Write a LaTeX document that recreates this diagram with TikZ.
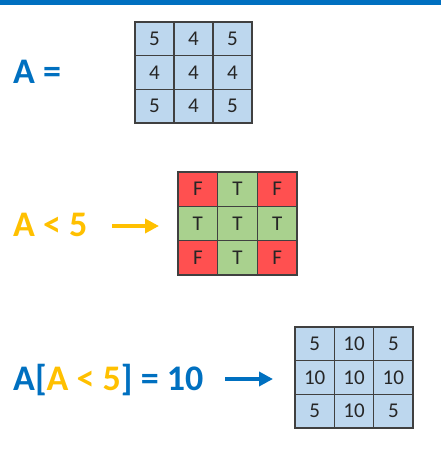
\documentclass[tikz,border=0pt]{standalone}
\usepackage{fontspec}
\setmainfont{Carlito}
\usetikzlibrary{arrows.meta}
\definecolor{tblue}{HTML}{0070C0}
\definecolor{tyellow}{HTML}{FFC000}
\definecolor{cblue}{HTML}{BDD7EE}
\definecolor{cred}{HTML}{FF5050}
\definecolor{cgreen}{HTML}{A9D18E}
\definecolor{cline}{HTML}{404040}
\definecolor{ctext}{HTML}{262626}
\tikzset{
  cell/.style={draw=cline, line width=1.3pt, inner sep=0pt, text=ctext,
    font=\fontsize{21}{21}\selectfont},
  bigtext/.style={anchor=base west, inner sep=0pt, font=\fontsize{36}{36}\selectfont\bfseries},
  bigarrow/.style={line width=4.5pt, -{Triangle[length=14pt,width=14pt]}},
}
\newcommand{\gridcell}[7]{% name, cx, cy, w, h, fill, text
  \node[cell, fill=#6, minimum width=#4pt, minimum height=#5pt] (#1) at (#2,#3) {#7};}
\begin{document}
\begin{tikzpicture}[x=1pt,y=-1pt]
\useasboundingbox (0,0) rectangle (441,457);
\fill[tblue] (0,0) rectangle (441,4.8);

% ---- A =
\node[bigtext, text=tblue] (lblA) at (13,84) {A =};
% matrix 1: x 135-252, y 22-123
\foreach \r/\rn in {0/a,1/b,2/c}{
  \foreach \c/\cn in {0/a,1/b,2/c}{
    \pgfmathsetmacro{\cx}{135+19.5+39*\c}
    \pgfmathsetmacro{\cy}{22+16.83+33.67*\r}
    \ifnum\r=1 \def\v{4}\else\ifnum\c=1 \def\v{4}\else\def\v{5}\fi\fi
    \gridcell{m1\rn\cn}{\cx}{\cy}{39}{33.67}{cblue}{\v}
  }
}

% ---- A < 5
\node[bigtext, text=tyellow] (lblB) at (13,236) {A < 5};
\coordinate (arrBs) at (112,226);
\coordinate (arrBe) at (159,226);
\draw[bigarrow, tyellow] (arrBs) -- (arrBe);
% matrix 2: x 178-297, y 172-275
\foreach \r/\rn in {0/a,1/b,2/c}{
  \foreach \c/\cn in {0/a,1/b,2/c}{
    \pgfmathsetmacro{\cx}{178+19.83+39.67*\c}
    \pgfmathsetmacro{\cy}{172+17.17+34.33*\r}
    \ifnum\r=1 \def\v{T}\def\f{cgreen}\else\ifnum\c=1 \def\v{T}\def\f{cgreen}\else\def\v{F}\def\f{cred}\fi\fi
    \gridcell{m2\rn\cn}{\cx}{\cy}{39.67}{34.33}{\f}{\v}
  }
}

% ---- A[A<5] = 10
\node[bigtext] (lblC) at (13,390) {\textcolor{tblue}{A[}\textcolor{tyellow}{A < 5}\textcolor{tblue}{] = 10}};
\coordinate (arrCs) at (225,379);
\coordinate (arrCe) at (273,379);
\draw[bigarrow, tblue] (arrCs) -- (arrCe);
% matrix 3: x 295-413, y 327-428
\foreach \r/\rn in {0/a,1/b,2/c}{
  \foreach \c/\cn in {0/a,1/b,2/c}{
    \pgfmathsetmacro{\cx}{295+19.67+39.33*\c}
    \pgfmathsetmacro{\cy}{327+16.83+33.67*\r}
    \ifnum\r=1 \def\v{10}\else\ifnum\c=1 \def\v{10}\else\def\v{5}\fi\fi
    \gridcell{m3\rn\cn}{\cx}{\cy}{39.33}{33.67}{cblue}{\v}
  }
}
\end{tikzpicture}
\end{document}
